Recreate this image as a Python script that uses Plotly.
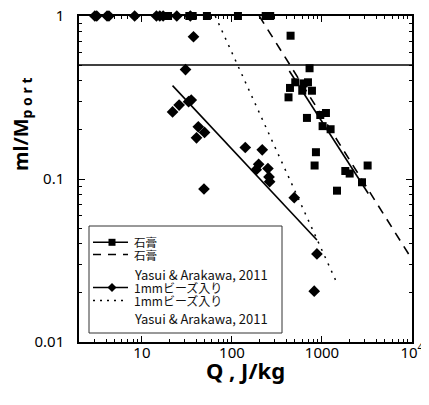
import plotly.graph_objects as go

# ---------------- data ----------------
gypsum_q = [19.5, 33.6, 36.6, 52.7, 116.6, 237, 266,
            448, 728, 505, 441, 425, 625, 699, 604, 774, 681, 957, 1107, 1016, 1247,
            857, 828, 1816, 2030, 2783, 3215, 1468]
gypsum_m = [1, 1, 1, 1, 1, 1, 1,
            0.757, 0.478, 0.392, 0.362, 0.317, 0.386, 0.392, 0.348, 0.348, 0.237, 0.247, 0.254, 0.211, 0.202,
            0.146, 0.121, 0.112, 0.108, 0.0955, 0.121, 0.0848]

beads_q = [3.0, 3.15, 4.1, 4.3, 8.3, 14.5, 15.8, 17.2, 24.4, 34.5,
           37.4, 30.5, 35.3, 33.0, 25.9, 21.9, 42.3, 49.6, 40.4, 48.9,
           140.6, 217, 198, 186, 251, 258, 262, 492, 879, 820]
beads_m = [1, 1, 1, 1, 1, 1, 1, 1, 1, 1,
           0.746, 0.469, 0.305, 0.298, 0.284, 0.258, 0.209, 0.193, 0.179, 0.0868,
           0.156, 0.151, 0.123, 0.114, 0.116, 0.103, 0.0963, 0.0768, 0.0347, 0.0205]

gypsum_fit_q = [434, 3266]
gypsum_fit_m = [0.46, 0.0815]
gypsum_yasui_q = [201, 10000]
gypsum_yasui_m = [1, 0.0321]

beads_fit_q = [21.9, 879]
beads_fit_m = [0.374, 0.0422]
beads_yasui_q = [65.2, 1450]
beads_yasui_m = [1, 0.0233]

ref_level = 0.5

x_tickvals = [10, 100, 1000, 10000]
x_ticktext = ["10", "100", "1000", "10<sup>4</sup>"]
y_tickvals = [0.01, 0.1, 1]
y_ticktext = ["0.01", "0.1", "1"]

legend_labels = ["石膏", "石膏", "Yasui & Arakawa, 2011",
                 "1mmビーズ入り", "1mmビーズ入り", "Yasui & Arakawa, 2011"]

# ---------------- figure ----------------
# the page body adds an 8px margin, so the figure is laid out in screen pixels minus 8
OFF = 8
SW, SH = 429, 405                       # window size
PL, PR, PT, PB = 79, 412, 16, 342       # plot-area edges in window pixels
W, H = SW - OFF, SH - OFF
ML, MT = PL - OFF, PT - OFF
MR, MB = W - (PR - OFF), H - (PB - OFF)
PW, PH = PR - PL, PB - PT


def px(x):
    return (x - PL) / PW


def py(y):
    return (PB - y) / PH


FONT = "'Noto Sans', 'Noto Sans CJK JP', sans-serif"
JFONT = "'Noto Sans CJK JP', 'Noto Sans', sans-serif"

fig = go.Figure()

fig.add_trace(go.Scatter(x=gypsum_fit_q, y=gypsum_fit_m, mode="lines",
                         line=dict(color="black", width=1.6), showlegend=False))
fig.add_trace(go.Scatter(x=gypsum_yasui_q, y=gypsum_yasui_m, mode="lines",
                         line=dict(color="black", width=1.6, dash="9px,7px"), showlegend=False))
fig.add_trace(go.Scatter(x=beads_fit_q, y=beads_fit_m, mode="lines",
                         line=dict(color="black", width=1.6), showlegend=False))
fig.add_trace(go.Scatter(x=beads_yasui_q, y=beads_yasui_m, mode="lines",
                         line=dict(color="black", width=1.5, dash="2px,6px"), showlegend=False))
fig.add_trace(go.Scatter(x=gypsum_q, y=gypsum_m, mode="markers", cliponaxis=False,
                         marker=dict(symbol="square", size=8, color="black"), showlegend=False))
fig.add_trace(go.Scatter(x=beads_q, y=beads_m, mode="markers", cliponaxis=False,
                         marker=dict(symbol="diamond", size=9, color="black"), showlegend=False))

# horizontal reference line
fig.add_shape(type="line", xref="paper", yref="y", x0=0, x1=1,
              y0=ref_level, y1=ref_level, line=dict(color="black", width=1.5))

minor_x = [d * 10 ** k for k in range(0, 4) for d in range(2, 10)]
minor_y = [d * 10 ** k for k in (-2, -1) for d in range(2, 10)]

axis_common = dict(showline=True, linecolor="black", linewidth=1.5, mirror="allticks",
                   ticks="inside", ticklen=6, tickwidth=1, tickcolor="black",
                   showgrid=False, zeroline=False, automargin=False,
                   ticklabeloverflow="allow",
                   tickfont=dict(family=FONT, size=15, color="black"))

fig.update_xaxes(type="log", range=[0.30103, 4], tickmode="array",
                 tickvals=x_tickvals, ticktext=x_ticktext,
                 minor=dict(tickmode="array", tickvals=minor_x, ticks="inside",
                            ticklen=3, tickcolor="black", showgrid=False),
                 ticklabelstandoff=-4, **axis_common)
fig.update_yaxes(type="log", range=[-2, 0], tickmode="array",
                 tickvals=y_tickvals, ticktext=y_ticktext,
                 minor=dict(tickmode="array", tickvals=minor_y, ticks="inside",
                            ticklen=3, tickcolor="black", showgrid=False),
                 ticklabelstandoff=10, **axis_common)

# axis titles
fig.add_annotation(xref="paper", yref="paper", x=px(245), y=py(370),
                   text="<b>Q , J/kg</b>", showarrow=False, xanchor="center", yanchor="middle",
                   font=dict(family=FONT, size=22, color="black"))
fig.add_annotation(xref="paper", yref="paper", x=px(22), y=py(125),
                   text="<b>ml/M<sub>p o r t</sub></b>", showarrow=False, textangle=-90,
                   xanchor="center", yanchor="middle",
                   font=dict(family=FONT, size=20, color="black"))

# ---------------- legend (drawn manually) ----------------
fig.add_shape(type="rect", xref="paper", yref="paper", x0=px(89), x1=px(282),
              y0=py(333), y1=py(226), line=dict(color="#333", width=1),
              fillcolor="white", layer="above")
rows = [242.3, 254.5, 274.5, 287.5, 300.5, 318.5]
label_sizes = [11.5, 11.5, 13, 12, 12, 13]
samples = [(0, "solid", "square"), (1, "dash", None), (3, "solid", "diamond"), (4, "dot", None)]
for idx, dash, sym in samples:
    y = py(rows[idx])
    dash_style = {"solid": "solid", "dash": "8px,7px", "dot": "2px,5px"}[dash]
    fig.add_shape(type="line", xref="paper", yref="paper", x0=px(93), x1=px(128),
                  y0=y, y1=y, line=dict(color="black", width=1.5, dash=dash_style), layer="above")
    if sym == "square":
        fig.add_shape(type="rect", xref="paper", yref="paper", xsizemode="pixel", ysizemode="pixel",
                      xanchor=px(112), yanchor=y, x0=-3.5, x1=3.5, y0=-3.5, y1=3.5,
                      fillcolor="black", line=dict(width=0), layer="above")
    elif sym == "diamond":
        fig.add_shape(type="path", xref="paper", yref="paper", xsizemode="pixel", ysizemode="pixel",
                      xanchor=px(112), yanchor=y, path="M 0,4.5 L 4.5,0 L 0,-4.5 L -4.5,0 Z",
                      fillcolor="black", line=dict(width=0), layer="above")
for label, r, fs in zip(legend_labels, rows, label_sizes):
    fig.add_annotation(xref="paper", yref="paper", x=px(132), y=py(r), text=label,
                       showarrow=False, xanchor="left", yanchor="middle",
                       font=dict(family=JFONT, size=fs, color="#111"))

fig.update_layout(width=W, height=H, margin=dict(l=ML, r=MR, t=MT, b=MB),
                  paper_bgcolor="white", plot_bgcolor="white", showlegend=False)

fig.write_html("out.html")
